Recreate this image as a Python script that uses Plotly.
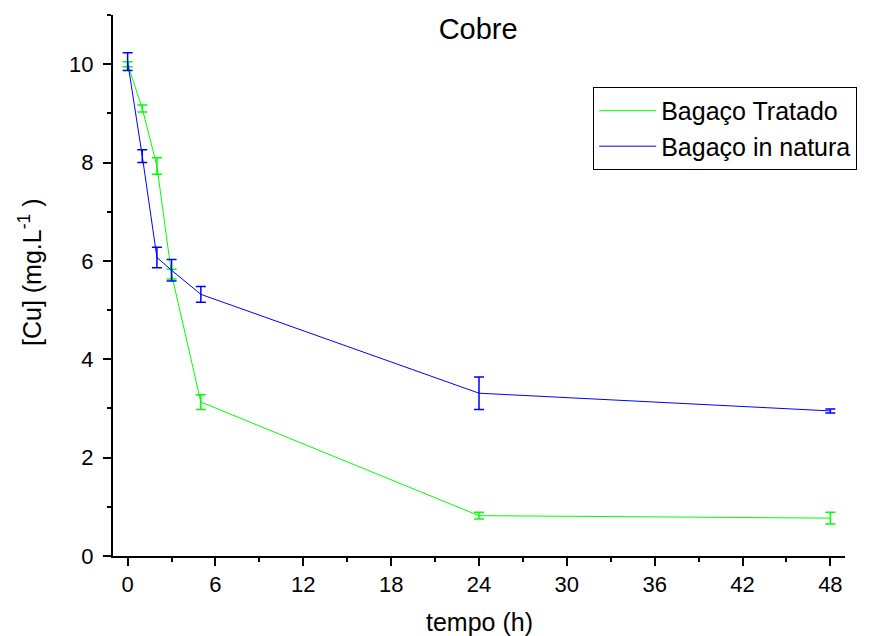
import plotly.graph_objects as go

# Concentração de cobre ao longo do tempo
tempo = [0, 1, 2, 3, 5, 24, 48]
tratado = [10.0, 9.10, 7.93, 5.73, 3.13, 0.82, 0.77]
tratado_err = [0.05, 0.07, 0.17, 0.10, 0.15, 0.07, 0.12]
natura = [10.05, 8.13, 6.07, 5.81, 5.32, 3.31, 2.95]
natura_err = [0.18, 0.13, 0.21, 0.22, 0.16, 0.33, 0.04]

x_ticks = [0, 6, 12, 18, 24, 30, 36, 42, 48]
y_ticks = [0, 2, 4, 6, 8, 10]

FONT = "Arial, Liberation Sans, sans-serif"
GREEN = "#00ff00"
BLUE = "#0000ff"

fig = go.Figure()
fig.add_trace(go.Scatter(
    x=tempo, y=tratado, mode="lines", name="Bagaço Tratado",
    line=dict(color=GREEN, width=1),
    error_y=dict(type="data", array=tratado_err, color=GREEN, thickness=1.5, width=5),
))
fig.add_trace(go.Scatter(
    x=tempo, y=natura, mode="lines", name="Bagaço in natura",
    line=dict(color=BLUE, width=1),
    error_y=dict(type="data", array=natura_err, color=BLUE, thickness=1.5, width=5),
))

W, H = 883, 636
L, R, T, B = 113, 38, 15, 80
plot_w, plot_h = W - L - R, H - T - B

fig.update_layout(
    width=W, height=H,
    margin=dict(l=L, r=R, t=T, b=B, autoexpand=False),
    paper_bgcolor="white", plot_bgcolor="white",
    font=dict(family=FONT, color="black"),
    showlegend=True,
    title=dict(text="Cobre", x=0.5415, xanchor="center", y=1 - 29 / H,
               yanchor="middle", yref="container",
               font=dict(size=29, family=FONT, color="black")),
    legend=dict(x=0.656, y=0.867, xanchor="left", yanchor="top",
                bordercolor="black", borderwidth=1, bgcolor="white",
                font=dict(size=25, family=FONT), itemwidth=57,
                tracegroupgap=0),
    annotations=[
        # axis titles
        dict(text="tempo (h)", xref="paper", yref="paper",
             x=0.5, y=(H - B - 622) / plot_h, xanchor="center", yanchor="middle",
             showarrow=False, font=dict(size=25, family=FONT)),
        dict(text="[Cu] (mg.L<sup>-1</sup> )", xref="paper", yref="paper",
             x=(30 - L) / plot_w, y=(H - B - 272) / plot_h, xanchor="center", yanchor="middle",
             textangle=-90, showarrow=False, font=dict(size=25, family=FONT)),
    ],
)
fig.update_xaxes(
    range=[-1, 49], tickvals=x_ticks, ticktext=[str(v) for v in x_ticks],
    showline=True, linecolor="black", linewidth=2, mirror=False,
    ticks="outside", ticklen=8, tickwidth=2, tickcolor="black",
    minor=dict(dtick=3, tick0=0, ticks="outside", ticklen=4, tickwidth=2, tickcolor="black"),
    showgrid=False, zeroline=False, automargin=False,
    tickfont=dict(size=22, family=FONT),
)
fig.update_yaxes(
    range=[0, 11], tickvals=y_ticks, ticktext=[str(v) for v in y_ticks],
    showline=True, linecolor="black", linewidth=2, mirror=False,
    ticks="outside", ticklen=8, tickwidth=2, tickcolor="black",
    minor=dict(dtick=1, tick0=0, ticks="outside", ticklen=4, tickwidth=2, tickcolor="black"),
    showgrid=False, zeroline=False, automargin=False,
    tickfont=dict(size=22, family=FONT), ticklabelstandoff=5,
)

fig.write_html("out.html")
